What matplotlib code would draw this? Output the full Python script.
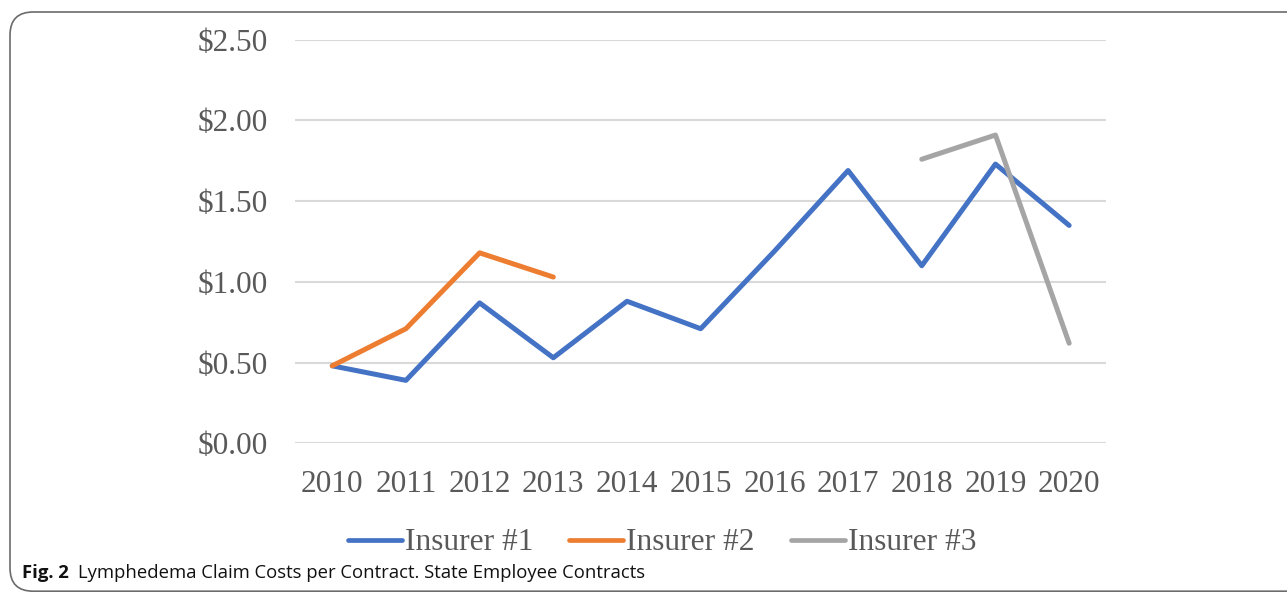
import matplotlib
matplotlib.use("Agg")
import matplotlib.pyplot as plt
from matplotlib.patches import FancyBboxPatch
import numpy as np

years = ["2010", "2011", "2012", "2013", "2014", "2015", "2016", "2017", "2018", "2019", "2020"]
insurer1 = [0.48, 0.39, 0.87, 0.53, 0.88, 0.71, 1.19, 1.69, 1.10, 1.73, 1.35]
insurer2 = [0.48, 0.71, 1.18, 1.03, None, None, None, None, None, None, None]
insurer3 = [None, None, None, None, None, None, None, None, 1.76, 1.91, 0.62]
series_names = ["Insurer #1", "Insurer #2", "Insurer #3"]
colors = ["#4472C4", "#ED7D31", "#A5A5A5"]
yticks = [0.0, 0.5, 1.0, 1.5, 2.0, 2.5]
caption_bold = "Fig. 2"
caption_text = "Lymphedema Claim Costs per Contract. State Employee Contracts"

W, H = 1287, 592
fig = plt.figure(figsize=(W / 100, H / 100), dpi=100)

# border
border = FancyBboxPatch((10 / W, 0.8 / H), 1400 / W, (580 - 0.8) / H,
                        boxstyle="round,pad=0,rounding_size=0.018",
                        transform=fig.transFigure, fill=False,
                        edgecolor="#6b6b6b", linewidth=1.2, mutation_aspect=W / H)
fig.add_artist(border)

ax = fig.add_axes([295.4 / W, (H - 443.3) / H, (1106 - 295.4) / W, 403.5 / H])
x = np.arange(len(years))
serif = ["Liberation Serif", "DejaVu Serif"]

for vals, name, c in zip([insurer1, insurer2, insurer3], series_names, colors):
    xs = [xi for xi, v in zip(x, vals) if v is not None]
    ys = [v for v in vals if v is not None]
    ax.plot(xs, ys, color=c, linewidth=3.6, solid_capstyle="round",
            solid_joinstyle="round", label=name, zorder=3)

ax.set_xlim(-0.5, len(years) - 0.5)
ax.set_ylim(0, 2.5)
ax.set_yticks(yticks)
ax.set_yticklabels([f"${v:.2f}" for v in yticks], fontfamily=serif, fontsize=22.5, color="#595959")
ax.set_xticks(x)
ax.set_xticklabels(years, fontfamily=serif, fontsize=22.5, color="#595959")
ax.tick_params(axis="both", length=0)
ax.tick_params(axis="y", pad=19.5)
ax.tick_params(axis="x", pad=19.5)
ax.grid(axis="y", color="#D9D9D9", linewidth=1.5, zorder=0)
for s in ax.spines.values():
    s.set_visible(False)

leg = fig.legend(loc="center", bbox_to_anchor=(662 / W, (H - 543) / H), ncol=3,
                 frameon=False, prop={"family": serif, "size": 22.6},
                 handlelength=1.72, handletextpad=0.1, columnspacing=1.15,
                 borderaxespad=0, borderpad=0)
for t in leg.get_texts():
    t.set_color("#595959")
for l in leg.get_lines():
    l.set_linewidth(3.4)
    l.set_solid_capstyle("round")

fig.canvas.draw()
r = fig.canvas.get_renderer()
tb = fig.text(22 / W, (H - 578) / H, caption_bold, fontfamily="Open Sans",
              fontweight="bold", fontsize=13.3, color="#111111", va="baseline")
bb = tb.get_window_extent(renderer=r)
fig.text((bb.x1 + 9) / W, (H - 578) / H, caption_text, fontfamily="Open Sans",
         fontsize=13.3, color="#111111", va="baseline")

fig.savefig("out.png", dpi=100)
